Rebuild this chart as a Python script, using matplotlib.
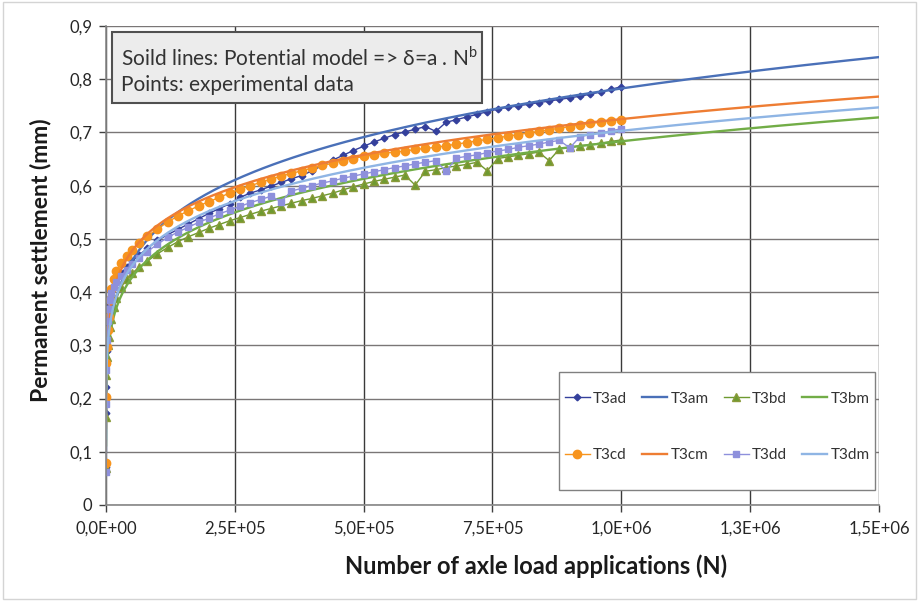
import numpy as np
import matplotlib
matplotlib.use('Agg')
import matplotlib.pyplot as plt
from matplotlib.patches import Rectangle

plt.rcParams['font.family'] = ['Lato', 'DejaVu Sans']
plt.rcParams['mathtext.fontset'] = 'custom'
plt.rcParams['mathtext.rm'] = 'Lato'

# load cycles of the readings (thousands)
n_exp_k = [0.1, 0.5, 1, 2, 3.5, 5, 7.5, 10, 15, 20, 30, 40, 50, 65, 80,
           100, 120, 140, 160, 180, 200, 220, 240, 260, 280, 300, 320, 340, 360, 380,
           400, 420, 440, 460, 480, 500, 520, 540, 560, 580, 600, 620, 640, 660, 680,
           700, 720, 740, 760, 780, 800, 820, 840, 860, 880, 900, 920, 940, 960, 980, 1000]

# measured permanent settlement (mm)
t3ad = [0.072, 0.172, 0.221, 0.290, 0.330, 0.355, 0.378, 0.393, 0.408, 0.420, 0.435, 0.448, 0.458, 0.470, 0.482,
        0.497, 0.508, 0.518, 0.528, 0.538, 0.548, 0.557, 0.566, 0.578, 0.586, 0.592, 0.599, 0.606, 0.613, 0.619,
        0.628, 0.638, 0.648, 0.657, 0.666, 0.674, 0.682, 0.689, 0.696, 0.701, 0.706, 0.711, 0.702, 0.719, 0.724,
        0.729, 0.734, 0.739, 0.744, 0.747, 0.750, 0.753, 0.756, 0.759, 0.762, 0.765, 0.768, 0.772, 0.776, 0.781, 0.786]
t3bd = [0.070, 0.165, 0.245, 0.278, 0.300, 0.316, 0.335, 0.350, 0.372, 0.388, 0.410, 0.424, 0.435, 0.447, 0.458,
        0.472, 0.484, 0.495, 0.504, 0.512, 0.520, 0.527, 0.534, 0.540, 0.546, 0.552, 0.557, 0.562, 0.567, 0.572,
        0.576, 0.581, 0.586, 0.592, 0.598, 0.603, 0.608, 0.612, 0.616, 0.620, 0.601, 0.627, 0.630, 0.634, 0.637,
        0.640, 0.644, 0.628, 0.651, 0.654, 0.657, 0.660, 0.663, 0.647, 0.669, 0.672, 0.675, 0.677, 0.680, 0.683, 0.686]
t3cd = [0.079, 0.203, 0.267, 0.297, 0.329, 0.354, 0.385, 0.405, 0.425, 0.440, 0.455, 0.468, 0.480, 0.493, 0.505,
        0.519, 0.532, 0.543, 0.553, 0.562, 0.570, 0.578, 0.586, 0.593, 0.600, 0.606, 0.612, 0.618, 0.623, 0.628,
        0.633, 0.638, 0.642, 0.647, 0.651, 0.655, 0.658, 0.661, 0.663, 0.665, 0.668, 0.670, 0.672, 0.675, 0.678,
        0.681, 0.684, 0.687, 0.690, 0.693, 0.696, 0.699, 0.702, 0.705, 0.708, 0.711, 0.714, 0.717, 0.719, 0.722, 0.724]
t3dd = [0.062, 0.190, 0.254, 0.310, 0.345, 0.368, 0.385, 0.398, 0.410, 0.419, 0.430, 0.442, 0.452, 0.464, 0.476,
        0.490, 0.503, 0.513, 0.522, 0.531, 0.539, 0.547, 0.554, 0.561, 0.568, 0.574, 0.580, 0.570, 0.590, 0.595,
        0.600, 0.605, 0.609, 0.614, 0.618, 0.622, 0.626, 0.630, 0.634, 0.637, 0.641, 0.644, 0.647, 0.627, 0.652,
        0.655, 0.658, 0.662, 0.665, 0.668, 0.672, 0.675, 0.678, 0.682, 0.685, 0.671, 0.692, 0.696, 0.699, 0.703, 0.707]

# potential model  delta = a * N^b
model_names = ['T3am', 'T3bm', 'T3cm', 'T3dm']
model_a = [0.0660, 0.0781, 0.1048, 0.0885]
model_b = [0.179, 0.157, 0.140, 0.150]

x_ticks = [0, 2.5e5, 5e5, 7.5e5, 1e6, 1.25e6, 1.5e6]
x_tick_labels = ['0,0E+00', '2,5E+05', '5,0E+05', '7,5E+05', '1,0E+06', '1,3E+06', '1,5E+06']
y_ticks = [0, 0.1, 0.2, 0.3, 0.4, 0.5, 0.6, 0.7, 0.8, 0.9]
y_tick_labels = ['0', '0,1', '0,2', '0,3', '0,4', '0,5', '0,6', '0,7', '0,8', '0,9']

n_exp = np.array(n_exp_k) * 1000.0
n_mod = np.geomspace(10, 1.5e6, 600)

fig = plt.figure(figsize=(9.19, 6.06), dpi=100)
fig.patches.append(Rectangle((0.003, 0.012), 0.994, 0.985, transform=fig.transFigure,
                             fill=False, edgecolor='#d4d4d4', lw=1))
ax = fig.add_axes([0.1153, 0.1667, 0.8411, 0.7904])

def model(i):
    return model_a[i] * n_mod ** model_b[i]

h = {}
h['T3ad'], = ax.plot(n_exp, t3ad, '-', marker='D', color='#34409c', ms=3.4, lw=1.0)
h['T3am'], = ax.plot(n_mod, model(0), '-', color='#4a70b8', lw=1.7)
h['T3bd'], = ax.plot(n_exp, t3bd, '-', marker='^', color='#6e9a30', mfc='#6e9a30', mec='#8a9a3a',
                     ms=5.5, lw=1.0)
h['T3bm'], = ax.plot(n_mod, model(1), '-', color='#72ad47', lw=1.7)
h['T3cd'], = ax.plot(n_exp, t3cd, '-', marker='o', color='#f7941e', ms=6, lw=1.0)
h['T3cm'], = ax.plot(n_mod, model(2), '-', color='#ee7d33', lw=1.7)
h['T3dd'], = ax.plot(n_exp, t3dd, '-', marker='s', color='#8e90dc', ms=5, lw=1.0)
h['T3dm'], = ax.plot(n_mod, model(3), '-', color='#8fb5e4', lw=1.7)

ax.set_xlim(0, 1.5e6)
ax.set_ylim(0, 0.9)
ax.set_xticks(x_ticks)
ax.set_xticklabels(x_tick_labels)
ax.set_yticks(y_ticks)
ax.set_yticklabels(y_tick_labels)
ax.tick_params(axis='both', labelsize=12, colors='#404040', length=5, width=1, direction='out')
ax.tick_params(axis='x', pad=6)
ax.tick_params(axis='y', pad=5)
for lab in ax.get_xticklabels() + ax.get_yticklabels():
    lab.set_color('#262626')

ax.grid(axis='y', color='#7a7676', lw=1.0)
ax.grid(axis='x', color='#3a3a3a', lw=1.0)
ax.set_axisbelow(True)
for s in ['top', 'right']:
    ax.spines[s].set_visible(False)
for s in ['left', 'bottom']:
    ax.spines[s].set_color('#868686')
    ax.spines[s].set_linewidth(1.2)

fig.text(0.583, 0.066, 'Number of axle load applications (N)', ha='center', va='center',
         fontsize=17, fontweight='bold', color='#1a1a1a')
fig.text(0.044, 0.571, 'Permanent settlement (mm)', ha='center', va='center', rotation=90,
         fontsize=16.5, fontweight='bold', color='#1a1a1a')

# note box in the upper left corner
ax.add_patch(Rectangle((0.0078, 0.839), 0.4786, 0.1485, transform=ax.transAxes,
                       facecolor='#ececec', edgecolor='#505050', lw=1.5, zorder=5))
ax.text(0.0194, 0.933, r'Soild lines: Potential model => δ=a . N$^\mathrm{b}$', transform=ax.transAxes,
        fontsize=15, color='#333333', va='center', ha='left', zorder=6,
        family=['Lato', 'DejaVu Sans'])
ax.text(0.0194, 0.877, 'Points: experimental data', transform=ax.transAxes,
        fontsize=15, color='#333333', va='center', ha='left', zorder=6)

# legend frame drawn separately so the entries can sit with wide row spacing
ax.add_patch(Rectangle((0.586, 0.0313), 0.4088, 0.2464, transform=ax.transAxes,
                       facecolor='white', edgecolor='#808080', lw=1.0, zorder=5))
order = ['T3ad', 'T3cd', 'T3am', 'T3cm', 'T3bd', 'T3dd', 'T3bm', 'T3dm']
leg = ax.legend([h[k] for k in order], order, ncol=4, loc='center',
                bbox_to_anchor=(0.5938, 0.1128, 0.394, 0.1), mode='expand',
                fontsize=11, frameon=False, labelspacing=2.78, borderpad=0,
                borderaxespad=0, handlelength=1.63, handletextpad=0.2, columnspacing=1.0)
leg.set_zorder(6)
for t in leg.get_texts():
    t.set_color('#333333')

fig.savefig('out.png', dpi=100)
